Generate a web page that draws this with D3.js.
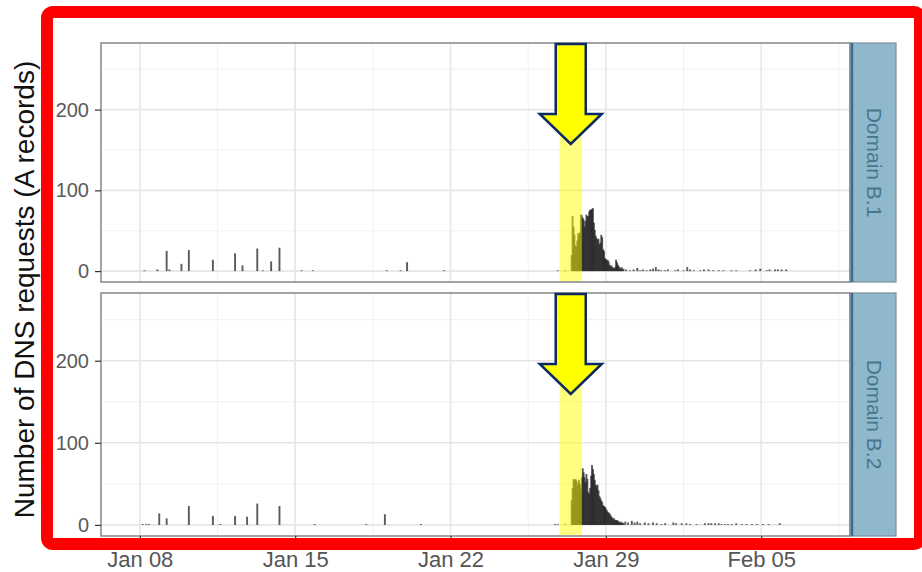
<!DOCTYPE html>
<html>
<head>
<meta charset="utf-8">
<script src="https://cdn.jsdelivr.net/npm/d3@7"></script>
<style>
  body { margin: 0; background: #fff; }
  svg { display: block; font-family: "Liberation Sans", Arial, sans-serif; }
</style>
</head>
<body>
<svg id="chart" width="922" height="572"></svg>
<script>
// ---- data: hourly DNS A-record requests per domain ----
const domains = ["Domain B.1", "Domain B.2"];
const xTickDates = ["2017-01-08", "2017-01-15", "2017-01-22", "2017-01-29", "2017-02-05"];
const yTicks = [0, 100, 200];
const yMinorTicks = [50, 150, 250];
const highlightWindow = ["2017-01-26 22:00", "2017-01-27 22:00"];

// contiguous hourly counts of the burst, starting at burstStart
const burstStart = "2017-01-27 11:00";
const burstB1 = [20, 68, 55, 45, 32, 30, 38, 47, 45, 48, 70, 69, 66, 64, 55, 62, 70, 68, 68, 74,
                 76, 76, 77, 78, 60, 51, 44, 41, 39, 40, 33, 35, 45, 42, 27, 25, 16, 15, 13, 14,
                 12, 8, 6, 7, 5, 4, 3, 5, 14, 11, 8, 6, 4, 3, 5, 2, 3];
const burstB2 = [30, 45, 56, 54, 56, 55, 48, 52, 55, 50, 44, 58, 69, 64, 58, 52, 62, 56, 40, 38,
                 45, 60, 73, 68, 62, 55, 49, 47, 49, 42, 35, 33, 30, 28, 24, 23, 22, 20, 18, 16,
                 15, 14, 12, 10, 9, 7, 8, 6, 5, 6, 5, 4, 3, 4, 2, 3, 2];

// isolated hours outside the burst
const scatteredB1 = [
  ["2017-01-08 05:00", 1], ["2017-01-08 19:00", 2], ["2017-01-09 05:00", 25], ["2017-01-09 08:00", 2],
  ["2017-01-09 21:00", 9], ["2017-01-10 05:00", 26], ["2017-01-11 07:00", 14], ["2017-01-12 07:00", 22],
  ["2017-01-12 15:00", 7], ["2017-01-13 07:00", 28], ["2017-01-13 13:00", 1], ["2017-01-13 22:00", 12],
  ["2017-01-14 07:00", 29], ["2017-01-15 07:00", 1], ["2017-01-15 19:00", 1], ["2017-01-19 03:00", 1],
  ["2017-01-19 18:00", 1], ["2017-01-20 01:00", 11], ["2017-01-21 17:00", 1], ["2017-01-26 20:00", 1],
  ["2017-01-27 04:00", 1],
  ["2017-01-29 22:00", 2], ["2017-01-30 02:00", 1], ["2017-01-30 06:00", 2], ["2017-01-30 10:00", 4],
  ["2017-01-30 13:00", 1], ["2017-01-30 16:00", 2], ["2017-01-30 20:00", 1], ["2017-01-31 00:00", 2],
  ["2017-01-31 03:00", 3], ["2017-01-31 06:00", 5], ["2017-01-31 09:00", 2], ["2017-01-31 12:00", 1],
  ["2017-01-31 16:00", 1], ["2017-01-31 19:00", 2], ["2017-02-01 03:00", 1], ["2017-02-01 06:00", 2],
  ["2017-02-01 12:00", 1], ["2017-02-01 16:00", 5], ["2017-02-01 19:00", 2], ["2017-02-01 23:00", 1],
  ["2017-02-02 06:00", 1], ["2017-02-02 10:00", 2], ["2017-02-02 15:00", 2], ["2017-02-02 20:00", 1],
  ["2017-02-03 02:00", 1], ["2017-02-03 07:00", 1], ["2017-02-03 16:00", 1], ["2017-02-03 21:00", 1],
  ["2017-02-04 12:00", 1], ["2017-02-04 18:00", 2], ["2017-02-04 23:00", 3], ["2017-02-05 06:00", 1],
  ["2017-02-05 09:00", 2], ["2017-02-05 15:00", 2], ["2017-02-05 18:00", 2], ["2017-02-05 22:00", 2],
  ["2017-02-06 03:00", 2]
];
const scatteredB2 = [
  ["2017-01-08 03:00", 1], ["2017-01-08 07:00", 1], ["2017-01-08 10:00", 1], ["2017-01-08 21:00", 14],
  ["2017-01-09 05:00", 8], ["2017-01-10 05:00", 23], ["2017-01-11 07:00", 11], ["2017-01-11 15:00", 1],
  ["2017-01-12 07:00", 11], ["2017-01-12 20:00", 10], ["2017-01-13 07:00", 26], ["2017-01-14 07:00", 23],
  ["2017-01-15 21:00", 1], ["2017-01-18 05:00", 1], ["2017-01-19 01:00", 13], ["2017-01-20 16:00", 1],
  ["2017-01-26 17:00", 1], ["2017-01-26 20:00", 1], ["2017-01-27 04:00", 1],
  ["2017-01-29 21:00", 4], ["2017-01-30 00:00", 3], ["2017-01-30 04:00", 5], ["2017-01-30 07:00", 3],
  ["2017-01-30 10:00", 4], ["2017-01-30 13:00", 2], ["2017-01-30 18:00", 3], ["2017-01-30 22:00", 2],
  ["2017-01-31 03:00", 3], ["2017-01-31 07:00", 2], ["2017-01-31 12:00", 1], ["2017-01-31 16:00", 2],
  ["2017-02-01 01:00", 3], ["2017-02-01 04:00", 2], ["2017-02-01 10:00", 2], ["2017-02-01 15:00", 2],
  ["2017-02-01 19:00", 1], ["2017-02-02 02:00", 1], ["2017-02-02 11:00", 2], ["2017-02-02 15:00", 2],
  ["2017-02-02 18:00", 2], ["2017-02-02 22:00", 2], ["2017-02-03 02:00", 2], ["2017-02-03 05:00", 1],
  ["2017-02-03 09:00", 1], ["2017-02-03 12:00", 1], ["2017-02-03 16:00", 1], ["2017-02-03 21:00", 2],
  ["2017-02-04 03:00", 1], ["2017-02-04 08:00", 1], ["2017-02-04 14:00", 1], ["2017-02-04 19:00", 1],
  ["2017-02-05 02:00", 1], ["2017-02-05 08:00", 1], ["2017-02-05 20:00", 2]
];

// ---- helpers ----
const parseHour = d3.timeParse("%Y-%m-%d %H:%M");
const parseDay = d3.timeParse("%Y-%m-%d");

function seriesFor(burst, scattered) {
  const t0 = parseHour(burstStart);
  const burstRows = burst.map((v, i) => ({ t: d3.timeHour.offset(t0, i), v }));
  const scatterRows = scattered.map(([s, v]) => ({ t: parseHour(s), v }));
  return scatterRows.concat(burstRows);
}
const series = [seriesFor(burstB1, scatteredB1), seriesFor(burstB2, scatteredB2)];

// ---- layout ----
const svg = d3.select("#chart");
const plotLeft = 101, plotRight = 850;
const panels = [{ top: 43, bottom: 282 }, { top: 293, bottom: 536 }];
const stripW = 46;

const x = d3.scaleTime()
  .domain([parseHour("2017-01-06 06:00"), parseHour("2017-02-09 00:00")])
  .range([plotLeft, plotRight]);
const xMinor = xTickDates.map(s => d3.timeHour.offset(parseDay(s), 84));

const barW = 1.9;

panels.forEach((p, i) => {
  const y = d3.scaleLinear().domain([-13.5, 282.5]).range([p.bottom, p.top]);
  const g = svg.append("g");

  g.append("rect").attr("x", plotLeft).attr("y", p.top)
    .attr("width", plotRight - plotLeft).attr("height", p.bottom - p.top).attr("fill", "#fff");

  // grid
  g.selectAll(".ym").data(yMinorTicks).join("line")
    .attr("x1", plotLeft).attr("x2", plotRight)
    .attr("y1", d => y(d)).attr("y2", d => y(d))
    .attr("stroke", "#f1f1f1").attr("stroke-width", 1);
  g.selectAll(".xm").data(xMinor).join("line")
    .attr("x1", d => x(d)).attr("x2", d => x(d))
    .attr("y1", p.top).attr("y2", p.bottom)
    .attr("stroke", "#f1f1f1").attr("stroke-width", 1);
  g.selectAll(".yM").data(yTicks).join("line")
    .attr("x1", plotLeft).attr("x2", plotRight)
    .attr("y1", d => y(d)).attr("y2", d => y(d))
    .attr("stroke", "#e6e6e6").attr("stroke-width", 1.6);
  g.selectAll(".xM").data(xTickDates.map(parseDay)).join("line")
    .attr("x1", d => x(d)).attr("x2", d => x(d))
    .attr("y1", p.top).attr("y2", p.bottom)
    .attr("stroke", "#e6e6e6").attr("stroke-width", 1.6);

  // hourly bars
  g.selectAll(".bar").data(series[i]).join("rect")
    .attr("x", d => x(d.t) - barW / 2)
    .attr("y", d => y(d.v))
    .attr("width", barW)
    .attr("height", d => y(0) - y(d.v))
    .attr("fill", "#1c1c1c")
    .attr("fill-opacity", 0.72);

  // highlighted day
  const h0 = x(parseHour(highlightWindow[0])), h1 = x(parseHour(highlightWindow[1]));
  g.append("rect").attr("x", h0).attr("y", p.top + 1)
    .attr("width", h1 - h0).attr("height", p.bottom - p.top - 2)
    .attr("fill", "#ffff00").attr("fill-opacity", 0.5);

  // panel border
  g.append("rect").attr("x", plotLeft).attr("y", p.top)
    .attr("width", plotRight - plotLeft).attr("height", p.bottom - p.top)
    .attr("fill", "none").attr("stroke", "#7d7d7d").attr("stroke-width", 1.4);

  // y axis
  const ya = g.append("g").attr("transform", `translate(${plotLeft},0)`)
    .call(d3.axisLeft(y).tickValues(yTicks).tickSize(6).tickPadding(6));
  ya.select(".domain").remove();
  ya.selectAll("line").attr("stroke", "#333").attr("stroke-width", 1.2);
  ya.selectAll("text").attr("fill", "#5a5a5a").attr("font-size", 20)
    .attr("font-family", "Liberation Sans, Arial, sans-serif");

  // arrow pointing at the highlighted day
  const cx = (h0 + h1) / 2, top = p.top + 1, shaftHalf = 15, headHalf = 31;
  const headTop = top + 70, tip = top + 100;
  g.append("polygon")
    .attr("points", [
      [cx - shaftHalf, top], [cx + shaftHalf, top], [cx + shaftHalf, headTop],
      [cx + headHalf, headTop], [cx, tip], [cx - headHalf, headTop], [cx - shaftHalf, headTop]
    ].map(pt => pt.join(",")).join(" "))
    .attr("fill", "#ffff00").attr("stroke", "#0d2a63").attr("stroke-width", 2.5)
    .attr("stroke-linejoin", "miter");

  // facet strip
  const sx = plotRight;
  g.append("rect").attr("x", sx).attr("y", p.top)
    .attr("width", stripW).attr("height", p.bottom - p.top)
    .attr("fill", "#8fb8cd").attr("stroke", "#7d8f99").attr("stroke-width", 1.2);
  g.append("line").attr("x1", sx + 2).attr("x2", sx + 2)
    .attr("y1", p.top).attr("y2", p.bottom)
    .attr("stroke", "#3d6f88").attr("stroke-width", 2.5);
  g.append("text")
    .attr("transform", `translate(${sx + stripW / 2 + 1},${(p.top + p.bottom) / 2}) rotate(90)`)
    .attr("text-anchor", "middle").attr("dominant-baseline", "central")
    .attr("font-size", 21).attr("fill", "#46778f")
    .text(domains[i]);
});

// x axis under the lower panel
const xa = svg.append("g").attr("transform", `translate(0,${panels[1].bottom})`)
  .call(d3.axisBottom(x).tickValues(xTickDates.map(parseDay))
    .tickFormat(d3.timeFormat("%b %d")).tickSize(6).tickPadding(9));
xa.select(".domain").remove();
xa.selectAll("line").attr("stroke", "#333").attr("stroke-width", 1.2);
xa.selectAll("text").attr("fill", "#555").attr("font-size", 22)
  .attr("font-family", "Liberation Sans, Arial, sans-serif");

// y axis title
svg.append("text")
  .attr("transform", `translate(34,${(panels[0].top + panels[1].bottom) / 2}) rotate(-90)`)
  .attr("text-anchor", "middle").attr("font-size", 28).attr("fill", "#111")
  .text("Number of DNS requests (A records)");

// red frame around the plot
svg.append("rect").attr("x", 47).attr("y", 12).attr("width", 873).attr("height", 532)
  .attr("rx", 6).attr("fill", "none").attr("stroke", "#ff0000").attr("stroke-width", 12);
</script>
</body>
</html>
